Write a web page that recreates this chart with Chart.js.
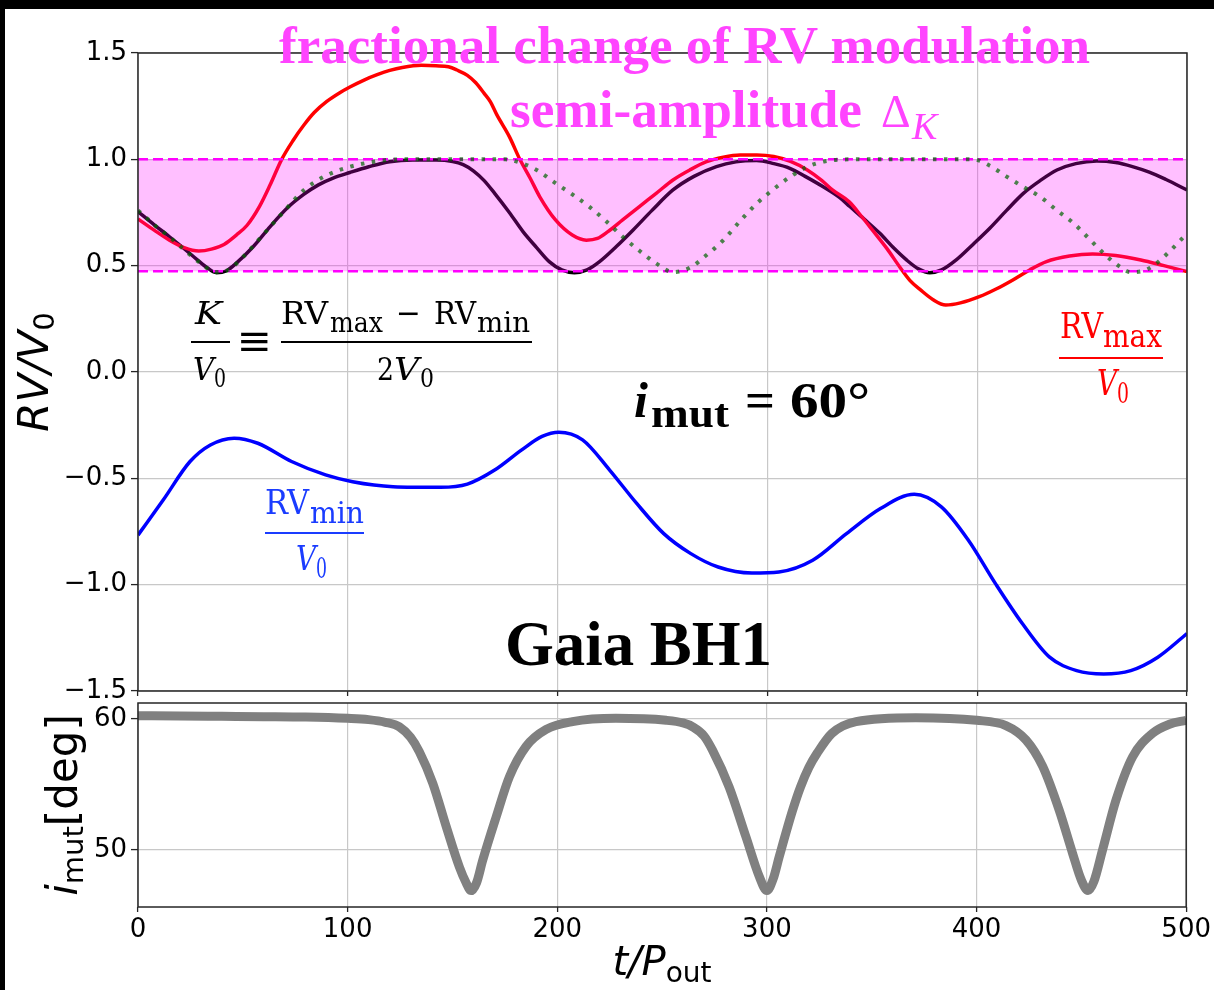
<!DOCTYPE html>
<html><head><meta charset="utf-8">
<script src="https://cdn.jsdelivr.net/npm/chart.js@4"></script>
<style>
html,body{margin:0;padding:0;background:#000;width:1214px;height:990px;overflow:hidden;}
#page{position:absolute;left:5px;top:9px;width:1209px;height:981px;background:#fff;}
#c1{position:absolute;left:0;top:0;}
#c2{position:absolute;left:0;top:695px;}
#ann{position:absolute;left:0;top:0;pointer-events:none;}
</style></head>
<body>
<div id="page"></div>
<canvas id="c2" width="1214" height="295"></canvas>
<canvas id="c1" width="1214" height="712"></canvas>
<svg id="ann" width="1214" height="990" xmlns="http://www.w3.org/2000/svg">
 <g font-family="'Liberation Serif','Times New Roman',serif" font-weight="bold" fill="#ff44ff">
  <text x="279" y="63" font-size="53" textLength="811" lengthAdjust="spacingAndGlyphs">fractional change of RV modulation</text>
  <text x="510" y="127" font-size="53" textLength="352" lengthAdjust="spacingAndGlyphs">semi-amplitude</text>
  <text x="881" y="127" font-size="46" font-weight="normal">Δ</text>
  <text x="912" y="139" font-size="38" font-weight="normal" font-style="italic">K</text>
 </g>
 <g font-family="'Liberation Serif','Times New Roman',serif" font-weight="bold" fill="#000">
  <text x="505" y="665" font-size="64" textLength="267" lengthAdjust="spacingAndGlyphs">Gaia BH1</text>
  <text x="634" y="417" font-size="50" font-style="italic">i</text>
  <text x="651" y="427" font-size="40" textLength="78" lengthAdjust="spacingAndGlyphs">mut</text>
  <text x="745" y="417" font-size="50" textLength="30" lengthAdjust="spacingAndGlyphs">=</text>
  <text x="790" y="417" font-size="50" textLength="80" lengthAdjust="spacingAndGlyphs">60°</text>
 </g>
 <g font-family="'DejaVu Serif',serif" fill="#000">
  <text x="195" y="324" font-size="32" font-style="italic" textLength="27" lengthAdjust="spacingAndGlyphs">K</text>
  <line x1="191" y1="342" x2="230" y2="342" stroke="#000" stroke-width="2"/>
  <text x="193" y="380" font-size="32" font-style="italic" textLength="21" lengthAdjust="spacingAndGlyphs">V</text>
  <text x="214" y="387" font-size="26" textLength="12" lengthAdjust="spacingAndGlyphs">0</text>
  <text x="254" y="355" font-size="42" text-anchor="middle">≡</text>
  <text x="281" y="324" font-size="32" textLength="47" lengthAdjust="spacingAndGlyphs">RV</text>
  <text x="330" y="332" font-size="27" textLength="53" lengthAdjust="spacingAndGlyphs">max</text>
  <text x="396" y="324" font-size="32" textLength="25" lengthAdjust="spacingAndGlyphs">−</text>
  <text x="434" y="324" font-size="32" textLength="42" lengthAdjust="spacingAndGlyphs">RV</text>
  <text x="477" y="332" font-size="27" textLength="53" lengthAdjust="spacingAndGlyphs">min</text>
  <line x1="281" y1="342" x2="532" y2="342" stroke="#000" stroke-width="2"/>
  <text x="377" y="380" font-size="32" textLength="17" lengthAdjust="spacingAndGlyphs">2</text>
  <text x="394" y="380" font-size="32" font-style="italic" textLength="25" lengthAdjust="spacingAndGlyphs">V</text>
  <text x="420" y="387" font-size="26" textLength="14" lengthAdjust="spacingAndGlyphs">0</text>
 </g>
 <g font-family="'DejaVu Serif',serif" fill="#ff0000">
  <text x="1060" y="338" font-size="36" textLength="43" lengthAdjust="spacingAndGlyphs">RV</text>
  <text x="1103" y="347" font-size="31" textLength="59" lengthAdjust="spacingAndGlyphs">max</text>
  <line x1="1059" y1="358" x2="1163" y2="358" stroke="#ff0000" stroke-width="2"/>
  <text x="1097" y="395" font-size="36" font-style="italic" textLength="20" lengthAdjust="spacingAndGlyphs">V</text>
  <text x="1117" y="403" font-size="28" textLength="12" lengthAdjust="spacingAndGlyphs">0</text>
 </g>
 <g font-family="'DejaVu Serif',serif" fill="#1a3cff">
  <text x="265" y="514" font-size="34" textLength="44" lengthAdjust="spacingAndGlyphs">RV</text>
  <text x="310" y="523" font-size="30" textLength="54" lengthAdjust="spacingAndGlyphs">min</text>
  <line x1="265" y1="533" x2="364" y2="533" stroke="#1a3cff" stroke-width="2"/>
  <text x="296" y="570" font-size="34" font-style="italic" textLength="20" lengthAdjust="spacingAndGlyphs">V</text>
  <text x="316" y="578" font-size="27" textLength="11" lengthAdjust="spacingAndGlyphs">0</text>
 </g>
 <g font-family="'DejaVu Sans',sans-serif" fill="#000">
  <text transform="translate(48,372) rotate(-90)" font-size="42" text-anchor="middle"><tspan font-style="italic">RV/V</tspan><tspan font-size="29" dy="6">0</tspan></text>
  <text transform="translate(77,805) rotate(-90)" font-size="42" text-anchor="middle"><tspan font-style="italic">i</tspan><tspan font-size="29" dy="6">mut</tspan><tspan dy="-6">[deg]</tspan></text>
  <text x="662" y="975" font-size="40" text-anchor="middle"><tspan font-style="italic">t/P</tspan><tspan font-size="28" dy="7">out</tspan></text>
 </g>
</svg>
<script>
// ---- data ----
const xTicks = [0, 100, 200, 300, 400, 500];
const yTicksTop = [-1.5, -1.0, -0.5, 0.0, 0.5, 1.0, 1.5];
const yTicksBottom = [50, 60];
const bandTop = 1.0;
const bandBottom = 0.474;

const tRed = [0,8,15,22,29,35,41,47,52,58,63,68.5,74,79,84,90,96,101,108,114,120,126,135,142,148,152,157,161,165,168,171,177,182,187,191.5,199,207,213.7,219,224,231,239,247,255,263,271,279,287,295,303,311,319,326,331,339,345,350,357,363,368,373,379,385,392,401,409,417,425,433,444,455,466,478,489,500];
const rvMax = [0.72,0.665,0.62,0.585,0.569,0.578,0.60,0.645,0.69,0.78,0.88,1.0,1.09,1.16,1.22,1.272,1.312,1.34,1.374,1.398,1.418,1.432,1.442,1.44,1.435,1.42,1.395,1.36,1.31,1.27,1.21,1.107,1.0,0.91,0.824,0.715,0.644,0.62,0.628,0.66,0.715,0.778,0.84,0.903,0.95,0.989,1.01,1.02,1.02,1.013,0.99,0.95,0.90,0.856,0.80,0.73,0.668,0.58,0.495,0.43,0.386,0.34,0.315,0.325,0.354,0.39,0.433,0.48,0.519,0.545,0.555,0.548,0.527,0.50,0.472];

const tK = [0,8,15,22,28,33,37.4,42,47,55,63,71,79,86,93,101,110,120,131,142,150,155,160,165,170,177,183.5,190,196,202,208,214,220,228,236,245,255,265,275.7,285,294.8,303,310.7,318,326.6,334.5,339.3,346,353.6,360,366.3,372,377.4,383,390,398,406,414,422,430,438,447,457,466,474,482,490,500];
const kOverV0 = [0.754,0.69,0.636,0.58,0.53,0.49,0.467,0.475,0.513,0.59,0.684,0.77,0.835,0.88,0.912,0.938,0.965,0.989,0.997,0.997,0.99,0.975,0.945,0.90,0.84,0.75,0.66,0.585,0.519,0.48,0.467,0.48,0.519,0.59,0.668,0.76,0.856,0.92,0.966,0.988,0.994,0.98,0.958,0.92,0.871,0.82,0.778,0.72,0.652,0.585,0.527,0.485,0.467,0.48,0.527,0.60,0.676,0.76,0.84,0.90,0.95,0.98,0.992,0.985,0.966,0.94,0.905,0.856];

const tDot = [0,8,15,22,30,37,43,50,60,70,79,90,100,110,120,130,175,182,190,199,207,215,223,231,239,247,255,263,271,279,287,295,303,311,319,327,339,398,406,414,422,430,438,446,454,462,468,473,479,484,492,500];
const kModel = [0.76,0.69,0.635,0.575,0.51,0.47,0.48,0.54,0.65,0.76,0.855,0.925,0.962,0.985,0.998,1.0,1.0,0.985,0.95,0.888,0.835,0.778,0.71,0.636,0.57,0.511,0.47,0.49,0.55,0.62,0.71,0.793,0.86,0.919,0.965,0.99,1.0,1.0,0.97,0.919,0.87,0.824,0.76,0.699,0.62,0.542,0.495,0.47,0.475,0.50,0.57,0.652];

const tBlue = [0,12,24.8,34.5,45.8,57.1,73.2,89.4,102.3,121.6,144.2,157,170,182.9,192.6,200.6,211.9,224.8,237.7,250.6,263.5,276.5,292.6,305.5,321.6,337.7,353.9,370,382.9,395.8,408.7,421.6,434.5,447.4,460.3,473.2,486.1,500];
const rvMin = [-0.767,-0.602,-0.421,-0.343,-0.311,-0.335,-0.421,-0.484,-0.516,-0.539,-0.542,-0.527,-0.461,-0.366,-0.303,-0.283,-0.319,-0.461,-0.618,-0.76,-0.854,-0.917,-0.945,-0.94,-0.885,-0.76,-0.642,-0.575,-0.634,-0.791,-0.995,-1.184,-1.341,-1.404,-1.42,-1.404,-1.341,-1.23];

const tInc = [0,20,40,60,80,100,110,118,124.7,130,134.2,140.6,147,153.3,156.5,158.9,161.5,164.4,170.8,177.2,185.1,194.7,207.3,228,252,260,264.6,270,274.1,282,290,296.4,300,303,305.9,312.2,316,320,324,331,342.5,371,400,414,423.6,431.5,439.4,445.8,450,453.2,456,460.1,466.5,474.4,483.9,492,500];
const iMut = [60.25,60.22,60.2,60.18,60.15,60.05,59.95,59.75,59.4,58.6,57.5,55.1,51.8,48.7,47.5,46.9,47.5,49.2,52.5,55.6,57.9,59.2,59.8,60.05,59.9,59.7,59.4,58.7,57.6,54.8,51.0,47.96,46.9,47.8,49.5,53.0,54.8,56.3,57.4,58.9,59.8,60.1,59.9,59.5,58.4,56.4,53.05,49.75,47.7,46.9,47.6,50.0,53.8,57.1,58.9,59.6,59.9];

// ---- helpers ----
const pts = (ts, vs) => ts.map((t, i) => ({x: t, y: vs[i]}));
const GRID = '#c8c8c8';
const SPINE = '#262626';
const tickFont = {family: "'DejaVu Sans', sans-serif", size: 26};
const fmt1 = v => (Math.abs(v) < 1e-9 ? '0.0' : v.toFixed(1).replace('-', '\u2212'));
const setTicks = arr => (s => { s.ticks = arr.map(v => ({value: v})); });
const fixY = s => { s.width = 138; s.paddingTop = 0; s.paddingBottom = 0; };

const framePlugin = {
  id: 'frame',
  afterDraw(chart) {
    const {ctx, chartArea: a} = chart;
    ctx.save();
    ctx.strokeStyle = SPINE;
    ctx.lineWidth = 1.5;
    ctx.strokeRect(a.left, a.top, a.right - a.left, a.bottom - a.top);
    ctx.restore();
  }
};

const commonGrid = (len) => ({color: GRID, lineWidth: 1.2, tickColor: SPINE, tickLength: len, tickWidth: 1.3});

new Chart(document.getElementById('c1'), {
  type: 'line',
  data: {datasets: [
    {data: pts(tRed, rvMax), borderColor: '#ff0000', borderWidth: 3.5, order: 5},
    {data: pts(tK, kOverV0), borderColor: '#000000', borderWidth: 3.5, order: 5},
    {data: pts(tBlue, rvMin), borderColor: '#0000ff', borderWidth: 3.5, order: 5},
    {data: [{x: 0, y: bandTop}, {x: 500, y: bandTop}], borderColor: '#ff00ff', borderWidth: 2.5, borderDash: [10, 5], order: 2},
    {data: [{x: 0, y: bandBottom}, {x: 500, y: bandBottom}], borderColor: '#ff00ff', borderWidth: 2.5, borderDash: [10, 5],
     fill: {value: bandTop}, backgroundColor: 'rgba(255,0,255,0.25)', order: 2},
    {data: pts(tDot, kModel), borderColor: 'rgba(0,100,0,0.7)', borderWidth: 4, borderDash: [3.5, 7.5], order: 0}
  ]},
  options: {
    responsive: false, animation: false,
    elements: {point: {radius: 0}, line: {cubicInterpolationMode: 'monotone', fill: false}},
    plugins: {legend: {display: false}, tooltip: {enabled: false}},
    layout: {padding: {top: 53, right: 27, left: 0, bottom: 0}},
    scales: {
      x: {type: 'linear', min: 0, max: 500, afterBuildTicks: setTicks(xTicks),
          ticks: {display: false}, grid: commonGrid(5), border: {display: false},
          afterFit: s => { s.height = 21; s.paddingLeft = 0; s.paddingRight = 0; }},
      y: {type: 'linear', min: -1.5, max: 1.5, afterBuildTicks: setTicks(yTicksTop),
          ticks: {font: tickFont, color: '#000', padding: 4, callback: v => fmt1(v)},
          grid: commonGrid(7), border: {display: false},
          afterFit: fixY}
    }
  },
  plugins: [framePlugin]
});

new Chart(document.getElementById('c2'), {
  type: 'line',
  data: {datasets: [
    {data: pts(tInc, iMut), borderColor: '#808080', borderWidth: 9, borderJoinStyle: 'round'}
  ]},
  options: {
    responsive: false, animation: false,
    elements: {point: {radius: 0}, line: {cubicInterpolationMode: 'monotone', fill: false}},
    plugins: {legend: {display: false}, tooltip: {enabled: false}},
    layout: {padding: {top: 8, right: 27, left: 0, bottom: 0}},
    scales: {
      x: {type: 'linear', min: 0, max: 500, afterBuildTicks: setTicks(xTicks),
          ticks: {font: tickFont, color: '#000', padding: 3, maxRotation: 0},
          grid: commonGrid(5), border: {display: false},
          afterFit: s => { s.height = 83; }},
      y: {type: 'linear', min: 45.65, max: 61.22, afterBuildTicks: setTicks(yTicksBottom),
          ticks: {font: tickFont, color: '#000', padding: 4, callback: v => String(v)},
          grid: commonGrid(7), border: {display: false},
          afterFit: fixY}
    }
  },
  plugins: [framePlugin]
});
</script>
</body></html>
